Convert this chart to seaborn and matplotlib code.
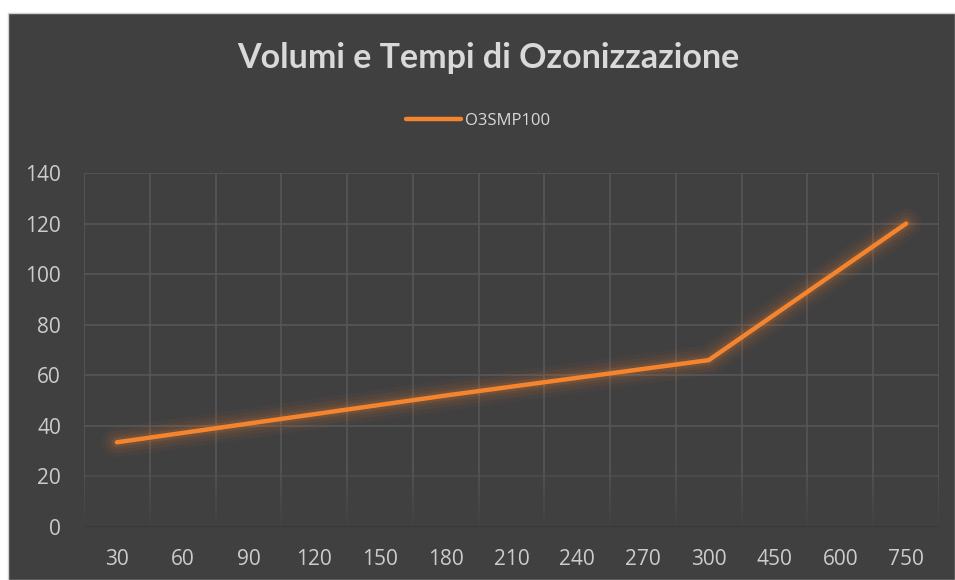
import pandas as pd
import numpy as np
import matplotlib
matplotlib.use("Agg")
import matplotlib.pyplot as plt
import seaborn as sns
from matplotlib.lines import Line2D
from matplotlib.patches import Rectangle

# DATA
TEMPI = ["30", "60", "90", "120", "150", "180", "210", "240", "270", "300", "450", "600", "750"]
VALORI = [33.5, 37.2, 40.9, 44.6, 48.3, 52.0, 55.5, 59.0, 62.5, 66.0, 84.0, 102.0, 120.0]
Y_TICKS = [0, 20, 40, 60, 80, 100, 120, 140]
SERIE = "O3SMP100"
TITOLO = "Volumi e Tempi di Ozonizzazione"

BG = "#404040"
GRID = "#585858"
TEXT = "#d9d9d9"
TICK_TEXT = "#cccccc"
ORANGE = "#F4842E"

df = pd.DataFrame({"tempo": TEMPI, "valore": VALORI})

sns.set_theme(style="dark")
plt.rcParams["font.family"] = ["Open Sans", "DejaVu Sans"]

fig = plt.figure(figsize=(9.55, 5.8), dpi=100)
fig.patch.set_facecolor("white")
fig.patches.append(Rectangle((8 / 955, 0), 1 - 8 / 955, 1 - 13 / 580,
                             transform=fig.transFigure, facecolor=BG,
                             edgecolor="#d0d0d0", linewidth=1, zorder=-10))

ax = fig.add_axes([84 / 955, 1 - 527 / 580, (939 - 84) / 955, (527 - 173) / 580])
ax.set_facecolor(BG)
for s in ax.spines.values():
    s.set_visible(False)

n = len(TEMPI)

# grid: horizontal lines
for y in Y_TICKS[1:]:
    a = 1.0 if y > 20 else 0.55
    ax.axhline(y, color=GRID, lw=1.1, alpha=a, zorder=0)
ax.axhline(0, color="#383838", lw=1.3, zorder=0)

# grid: vertical lines fading towards the bottom
steps = np.linspace(0, 22, 12)
for xv in np.arange(-0.5, n, 1.0):
    ax.plot([xv, xv], [22, 140], color=GRID, lw=1.1, zorder=0)
    for i in range(len(steps) - 1):
        ax.plot([xv, xv], [steps[i], steps[i + 1]], color=GRID, lw=1.1,
                alpha=(i + 1) / len(steps), zorder=0, solid_capstyle="butt")

# glow
for lw, al in [(22, 0.04), (16, 0.06), (11, 0.08), (7, 0.12)]:
    sns.lineplot(data=df, x="tempo", y="valore", sort=False, color=ORANGE,
                 linewidth=lw, alpha=al, legend=False, ax=ax,
                 solid_capstyle="round", solid_joinstyle="round", zorder=2)
sns.lineplot(data=df, x="tempo", y="valore", sort=False, color=ORANGE,
             linewidth=3.2, legend=False, ax=ax, solid_capstyle="round",
             solid_joinstyle="miter", zorder=3)

ax.set_xlim(-0.5, n - 0.5)
ax.set_ylim(0, 140)
ax.set_yticks(Y_TICKS)
ax.set_xticks(range(n))
ax.set_xticklabels(TEMPI)
ax.tick_params(axis="both", colors=TICK_TEXT, labelsize=15, length=0)
ax.tick_params(axis="y", pad=16.5)
ax.tick_params(axis="x", pad=15.5)
ax.set_xlabel("")
ax.set_ylabel("")
ax.grid(False)

fig.text(488 / 955, 1 - 58 / 580, TITOLO, ha="center", va="center",
         fontsize=24.5, fontweight="bold", color=TEXT, family=["Lato", "DejaVu Sans"])

handle = Line2D([], [], color=ORANGE, lw=3.2)
fig.legend([handle], [SERIE], loc="center", bbox_to_anchor=(478 / 955, 1 - 121 / 580),
           frameon=False, fontsize=12, labelcolor=TEXT, handlelength=3.3,
           handletextpad=0.25)

fig.savefig("out.png", dpi=100, facecolor=fig.get_facecolor())
